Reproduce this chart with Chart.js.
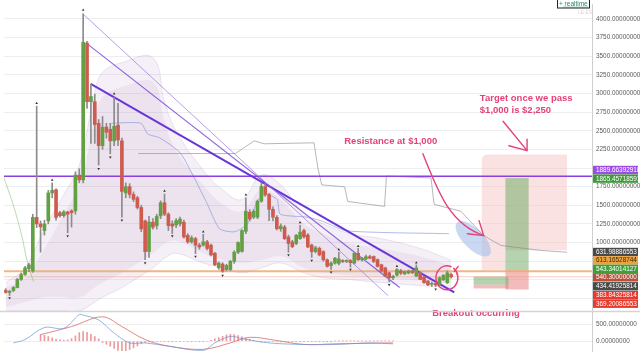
<!DOCTYPE html>
<html>
<head>
<meta charset="utf-8">
<script src="https://cdn.jsdelivr.net/npm/chart.js@4.4.1/dist/chart.umd.min.js"></script>
<style>
html,body{margin:0;padding:0;background:#fff;overflow:hidden}
canvas{display:block}
</style>
</head>
<body>
<canvas id="c" width="640" height="355"></canvas>
<script>
// ---------------- data (3-day candles) ----------------
const opens  = [357,330,357,396,505,571,650,620,1337,1250,1160,1290,1665,1708,1400,1360,1410,1425,1424,1905,
                1840,3676,2890,2889,2600,2300,2550,2520,2364,2575,2364,1665,1750,1645,1600,1470,1290,880,1272,1227,
                1358,1534,1380,1250,1236,1250,1272,1096,1009,1052,965,965,1009,965,855,660,711,637,637,747,
                870,880,1150,1406,1340,1340,1555,1752,1643,1446,1337,1184,1206,1075,1009,987,1052,1161,1100,965,
                878,921,878,768,690,724,720,750,745,760,724,855,768,780,810,812,770,702,659,593,
                527,563,620,580,590,620,550,593,537,484,440,450,440,500,462,571];
const highs  = [380,360,410,520,590,680,720,1380,2830,1290,1300,1700,1800,1720,1420,1430,1420,1440,1950,1990,
                4070,3700,3125,2990,2650,2692,2600,2600,2950,2867,2400,1800,1790,1680,1620,1500,1300,1350,1320,1380,
                1560,1650,1400,1290,1320,1340,1300,1120,1090,1070,990,1110,1030,980,870,740,730,710,760,890,
                1010,1170,1600,1440,1440,1570,1800,1790,1660,1480,1360,1250,1230,1100,1030,1110,1230,1180,1120,980,
                950,940,890,780,740,800,870,770,770,770,870,920,800,830,830,820,780,710,670,600,
                560,650,640,620,630,630,700,610,545,490,470,460,540,570,620,590];
const lows   = [320,290,340,390,490,560,610,600,1200,870,1100,1250,1600,1300,1340,1340,1130,1206,1380,1800,
                1800,2800,2330,2330,2040,2250,2400,2190,2300,2300,1340,1600,1600,1550,1450,1144,770,800,1180,1180,
                1320,1360,1161,1120,1200,1220,1060,990,990,850,910,950,900,820,690,640,600,620,620,720,
                850,870,1120,1290,1320,1320,1540,1620,1293,1290,1170,1150,1040,870,930,970,1040,1060,930,800,
                860,820,750,670,640,710,700,730,730,670,710,760,750,770,780,730,670,600,540,470,
                500,550,570,570,580,580,540,500,450,420,410,410,420,490,450,520];
const closes = [331,345,396,505,570,659,700,1337,1250,1210,1250,1665,1700,1337,1360,1410,1380,1400,1905,1840,
                3686,2889,2960,2583,2300,2548,2480,2364,2561,2377,1686,1750,1645,1580,1470,1184,878,1275,1206,1350,
                1534,1380,1227,1220,1293,1315,1075,1009,1062,965,940,1009,921,834,702,724,616,694,747,870,
                1000,1160,1420,1315,1420,1555,1752,1643,1446,1340,1184,1220,1052,987,944,1096,1140,1075,940,878,
                930,833,768,681,724,790,780,745,760,730,855,768,790,810,790,747,680,616,550,527,
                545,637,590,610,620,595,659,505,462,432,450,430,527,560,593,540];

const highMarkIdx = [8,12,20,28,41,51,62,76,86,91,101,106];
const highMarkVal = [2870,1840,4120,2998,1690,1145,1640,1270,905,950,680,730];
const lowMarkIdx  = [1,16,24,27,30,36,43,49,56,73,79,84,89,99,111];
const lowMarkVal  = [256,1089,1990,2145,1300,724,1089,812,558,833,760,602,637,432,374];

// shaded volatility bands (outer and inner)
const bandIdx   = [0,5,10,15,19,23,25,30,38,41,44,51,56,61,66,71,77,82,89,97,107,115];
const bandUpper = [462,659,1184,1643,2036,3020,3283,3414,3480,2889,2496,1971,1708,1577,1905,1774,1380,1249,1118,1052,921,764];
const bandLower = [82,82,82,82,82,200,265,396,659,790,856,724,659,593,659,724,593,527,501,462,423,396];
const innerUpper = [396,527,921,1380,1774,2627,2955,3086,3152,2627,2233,1774,1512,1420,1708,1577,1249,1118,987,921,816,685];
const innerLower = [134,200,265,265,265,396,462,593,856,987,1026,856,764,724,764,816,659,593,554,527,488,449];

// cloud lines [index, price]
const spanIdx = [34.2,59.3,61.9,64.2,66.7,79.6,80.6,81.6,87.5,88.3,97.8,98.3,109.8,110.6,117.5,123.4,127.8,138.0,144.9];
const spanVal = [2194,2194,2286,2364,2325,2338,1997,1774,1748,1551,1485,1892,1866,1512,1420,1092,961,895,869];
const baseIdx = [27.3,34.9,36.7,39.8,45,48.3,52.1,55.2,59.1,62.4,65.2,67.5,70.1,70.9,77.8,81.6,88.0,114.4];
const baseVal = [2601,2601,2456,2404,2207,1905,1512,1184,1144,1249,1577,1643,1577,1380,1341,1289,1157,1118];
const lagIdx = [-0.5,2.1,4.2,5.5,7.2];
const lagVal = [1880,1480,1080,760,470];

// drawn trend lines [index, price]
const trendStart = [[19.9,4070],[20.8,3676],[21.95,3129]];
const trendEnd   = [[98.7,288],[101.7,396],[115.8,331]];

// horizontal levels
const resistanceLevel = 1889.66392918;
const orangeLevel = 613.16528744;
const lastLevel = 540.30;

// right axis
const priceTicks = [250,500,750,1000,1250,1500,1750,2000,2250,2500,2750,3000,3250,3500,3750,4000];
const hiddenTickLabels = [250,500,750,2000];
const badgeValues = [1889.66392918,1865.45718591,631.98886553,613.16528744,543.34014127,540.30000000,434.41925814,383.84325814,369.20086553];

// position tools: [startIdx, endIdx, entry, target, stop]
const positions = [[129,135,631.99,1865.46,369.20],[120.8,129.8,434.42,543.34,383.84]];

// MACD panel
const macdIdx = [2,5,10,15,19,20,24,28,32,36,42,51,54,58,61,68,77,85,94,100];
const macdVal = [-50,50,412,391,803,785,638,244,-50,-50,-147,-274,-50,147,79,-50,-97,-97,-50,-79];
const signalIdx = [9,17,25,30,36,42,51,58,63,70,77,85,100];
const signalVal = [197,441,735,441,50,-147,-244,-50,118,21,-97,-79,-50];
const histIdx = [9,10,11,12,13,14,15,16,17,18,19,20,21,22,23,24,25,26,27,28,29,30,31,32,33,34,35,36,37,38,39,40,41,42,43,44,45,46,47,48,49,50,51,52,53,54,55,56,57,58,59,60,61,62,63,64,65,66,67,68,69,70,71,72,73,74,75,76,77,78,79,80,81,82,83,84,85,86,87,88,89,90,91,92,93,94,95,96,97,98,99,100];
const histVal = [200,180,140,100,60,40,30,40,80,160,260,290,270,210,140,70,-40,-90,-150,-220,-280,-290,-290,-250,-200,-140,-80,-40,-20,-15,-15,-15,-15,-10,-10,-10,-10,-15,-15,-10,-15,-10,-10,0,30,70,110,150,190,210,200,170,130,90,60,30,-15,-20,-20,-15,-15,-20,-20,-15,-15,-10,-10,-10,-10,-10,-10,-10,-10,-10,-5,-5,10,10,10,10,10,10,10,10,10,10,10,10,10,10,10,10];

// ---------------- chart ----------------
const GREEN = '#62a043', RED = '#cf5b4f';
const idx = opens.map((_, i) => i);
const pts = (xs, ys) => xs.map((x, i) => ({x, y: ys[i]}));
const flat = (v) => [{x:-1, y:v}, {x:152, y:v}];
const seg = (a, b) => [{x:a[0], y:a[1]}, {x:b[0], y:b[1]}];

const datasets = [
  {type:'line', data: pts(bandIdx, bandUpper), borderColor:'rgba(170,130,190,0.2)', borderWidth:1, pointRadius:0, tension:0.4, fill:false, yAxisID:'y', order:12},
  {type:'line', data: pts(bandIdx, bandLower), borderColor:'rgba(170,130,190,0.2)', borderWidth:1, pointRadius:0, tension:0.4, fill:'-1', backgroundColor:'rgba(175,135,195,0.13)', yAxisID:'y', order:12},
  {type:'line', data: pts(bandIdx, innerUpper), borderColor:'rgba(0,0,0,0)', borderWidth:0, pointRadius:0, tension:0.4, fill:false, yAxisID:'y', order:11},
  {type:'line', data: pts(bandIdx, innerLower), borderColor:'rgba(0,0,0,0)', borderWidth:0, pointRadius:0, tension:0.4, fill:'-1', backgroundColor:'rgba(160,110,170,0.09)', yAxisID:'y', order:11},
  {type:'line', data: pts(spanIdx, spanVal), borderColor:'rgba(135,135,140,0.75)', borderWidth:0.8, pointRadius:0, tension:0, yAxisID:'y', order:9},
  {type:'line', data: pts(baseIdx, baseVal), borderColor:'rgba(115,135,215,0.7)', borderWidth:0.8, pointRadius:0, tension:0.2, yAxisID:'y', order:9},
  {type:'line', data: pts(lagIdx, lagVal), borderColor:'rgba(130,190,110,0.7)', borderWidth:0.8, pointRadius:0, tension:0.3, yAxisID:'y', order:9},
  {type:'line', data: flat(resistanceLevel), borderColor:'#8a3fe0', borderWidth:1.6, pointRadius:0, yAxisID:'y', order:5},
  {type:'line', data: flat(orangeLevel), borderColor:'rgba(236,170,110,0.85)', borderWidth:2, pointRadius:0, yAxisID:'y', order:5},
  {type:'line', data: flat(lastLevel), borderColor:'rgba(236,150,120,0.6)', borderWidth:0.8, pointRadius:0, yAxisID:'y', order:5},
  {type:'line', data: seg(trendStart[0], trendEnd[0]), borderColor:'rgba(150,110,220,0.75)', borderWidth:0.9, pointRadius:0, yAxisID:'y', order:4},
  {type:'line', data: seg(trendStart[1], trendEnd[1]), borderColor:'rgba(120,70,215,0.85)', borderWidth:1.1, pointRadius:0, yAxisID:'y', order:4},
  {type:'line', data: seg(trendStart[2], trendEnd[2]), borderColor:'#6a35d8', borderWidth:2, pointRadius:0, yAxisID:'y', order:4},
  {type:'bar', data: idx.map(i => ({x:i, y:[lows[i], highs[i]]})), backgroundColor:'#8c8c8c', barThickness:1, grouped:false, yAxisID:'y', order:3},
  {type:'bar', data: idx.map(i => ({x:i, y:[opens[i], closes[i]]})), backgroundColor: idx.map(i => closes[i] >= opens[i] ? GREEN : RED), barThickness:3, grouped:false, yAxisID:'y', order:2, minBarLength:1},
  {type:'scatter', data: pts(highMarkIdx, highMarkVal), pointStyle:'triangle', rotation:0, pointRadius:1.5, backgroundColor:'#333', borderWidth:0, yAxisID:'y', order:1},
  {type:'scatter', data: pts(lowMarkIdx, lowMarkVal), pointStyle:'triangle', rotation:180, pointRadius:1.5, backgroundColor:'#333', borderWidth:0, yAxisID:'y', order:1},
  {type:'bar', data: pts(histIdx, histVal), backgroundColor:'rgba(230,120,120,0.75)', barThickness:1, grouped:false, yAxisID:'m', order:3},
  {type:'line', data: pts(macdIdx, macdVal), borderColor:'rgba(110,150,215,0.8)', borderWidth:0.9, pointRadius:0, tension:0.35, yAxisID:'m', order:2},
  {type:'line', data: pts(signalIdx, signalVal), borderColor:'rgba(215,100,95,0.85)', borderWidth:0.9, pointRadius:0, tension:0.35, yAxisID:'m', order:2}
];

const fmt = v => Number(v).toFixed(8);

const overlay = {
  id:'overlay',
  beforeDatasetsDraw(chart){
    const {ctx, scales:{x, y}} = chart;
    const X = v => x.getPixelForValue(v), Y = v => y.getPixelForValue(v);
    ctx.save();
    const bx1 = X(122.9), bx2 = X(144.9), by1 = Y(2180), by2 = Y(895);
    ctx.fillStyle = 'rgba(244,190,190,0.45)';
    ctx.beginPath();
    ctx.moveTo(bx1+6, by1); ctx.lineTo(bx2, by1); ctx.lineTo(bx2, by2); ctx.lineTo(bx1, by2); ctx.lineTo(bx1, by1+6);
    ctx.quadraticCurveTo(bx1, by1, bx1+6, by1); ctx.fill();
    ctx.fillRect(bx1, by2, X(129)-bx1, Y(633)-by2);
    positions.forEach(p => {
      const a = X(p[0]), b = X(p[1]);
      ctx.fillStyle = 'rgba(120,175,110,0.55)';
      ctx.fillRect(a, Y(p[3]), b-a, Y(p[2])-Y(p[3]));
      ctx.fillStyle = 'rgba(232,120,120,0.5)';
      ctx.fillRect(a, Y(p[2]), b-a, Y(p[4])-Y(p[2]));
    });
    ctx.fillStyle = 'rgba(165,192,235,0.6)';
    ctx.beginPath();
    ctx.ellipse(X(120.7), Y(1052), 23, 10, Math.PI/4, 0, Math.PI*2);
    ctx.fill();
    ctx.restore();
  },
  afterDatasetsDraw(chart){
    const {ctx, scales:{x, y}} = chart;
    const X = v => x.getPixelForValue(v), Y = v => y.getPixelForValue(v);
    ctx.save();
    const pink = '#e5417a';
    ctx.strokeStyle = pink; ctx.lineWidth = 1.4; ctx.lineCap = 'round'; ctx.lineJoin='round';
    ctx.beginPath();
    ctx.moveTo(X(107.7), Y(2190));
    ctx.bezierCurveTo(X(111.5), Y(1700), X(114.5), Y(1250), X(123.4), Y(1092));
    ctx.stroke();
    ctx.beginPath();
    ctx.moveTo(X(119.2), Y(1118)); ctx.lineTo(X(123.4), Y(1092)); ctx.lineTo(X(122.2), Y(1293));
    ctx.stroke();
    ctx.beginPath();
    ctx.moveTo(X(128.4), Y(2627)); ctx.lineTo(X(134.6), Y(2233));
    ctx.moveTo(X(129.9), Y(2299)); ctx.lineTo(X(134.6), Y(2233)); ctx.lineTo(X(134.6), Y(2387));
    ctx.stroke();
    ctx.beginPath();
    ctx.ellipse(X(113.9), Y(527), 11, 12, 0, -0.9, 5.1);
    ctx.stroke();
    ctx.beginPath();
    ctx.moveTo(X(115.8), Y(610)); ctx.lineTo(X(116.8), Y(680));
    ctx.stroke();
    ctx.fillStyle = pink;
    ctx.font = 'bold 9.5px "Liberation Sans", Arial, sans-serif';
    ctx.textBaseline = 'middle'; ctx.textAlign = 'left';
    ctx.fillText('Resistance at $1,000', X(87.4), Y(2364));
    ctx.fillText('Target once we pass', X(122.4), Y(2933));
    ctx.fillText('$1,000 is $2,250', X(122.4), Y(2780));
    ctx.fillText('Breakout occurring', X(110.1), Y(55));
    ctx.restore();
  },
  afterDraw(chart){
    const {ctx, scales:{y}, chartArea} = chart;
    ctx.save();
    ctx.strokeStyle = '#d4d4d4'; ctx.lineWidth = 1.5;
    ctx.beginPath(); ctx.moveTo(0, y.bottom+0.5); ctx.lineTo(640, y.bottom+0.5); ctx.stroke();
    const colors = ['#9a4ee6','#3f9a3a','#4a4a4a','#f0a23a','#3f9f3a','#b8503a','#4a4a4a','#e53b2f','#e53b2f'];
    const centers = [170,178.6,252,260.4,268.8,277.3,286.3,295.2,303.7];
    ctx.font = '6.4px "Liberation Sans", Arial, sans-serif';
    ctx.textBaseline = 'middle'; ctx.textAlign = 'left';
    badgeValues.forEach((v, i) => {
      ctx.fillStyle = colors[i];
      ctx.fillRect(chartArea.right+1, centers[i]-4.2, 45, 8.4);
      ctx.fillStyle = i === 3 ? '#3a2a10' : '#fff';
      ctx.fillText(fmt(v), chartArea.right+4, centers[i]+0.3);
    });
    ctx.fillStyle = '#fff'; ctx.fillRect(557, -1, 32, 8.5);
    ctx.strokeStyle = '#222'; ctx.lineWidth = 1; ctx.strokeRect(557.5, -0.5, 32, 8.5);
    ctx.fillStyle = '#2a8a72'; ctx.font = '6.5px "Liberation Sans", Arial, sans-serif';
    ctx.fillText('+ realtime', 559, 4);
    ctx.fillRect(563, 6.8, 25, 0.6);
    ctx.fillStyle = '#d8d8d8'; ctx.font = '5px "Liberation Sans", Arial, sans-serif';
    ctx.fillText('LE ES', 578, 12.5);
    ctx.restore();
  }
};

const noPad = a => { a.width = 48; a.paddingTop = 0; a.paddingBottom = 0; };

new Chart(document.getElementById('c'), {
  type:'bar',
  data:{datasets},
  plugins:[overlay],
  options:{
    responsive:false, animation:false, devicePixelRatio:1,
    layout:{padding:0},
    plugins:{legend:{display:false}, tooltip:{enabled:false}},
    scales:{
      x:{type:'linear', min:-0.436, max:151.36, offset:false, display:false},
      y:{type:'linear', position:'right', stack:'p', stackWeight:314, min:82, max:4201,
         afterBuildTicks:a => { a.ticks = priceTicks.map(v => ({value:v})); },
         afterFit:noPad,
         ticks:{padding:4, autoSkip:false, color:'#5a5a5a', font:{family:'Liberation Sans', size:6.4},
                callback:v => hiddenTickLabels.includes(v) ? '' : fmt(v)},
         grid:{color:'#eeeeee', drawTicks:false},
         border:{display:true, color:'#cfcfcf'}},
      m:{type:'linear', position:'right', stack:'p', stackWeight:41, min:-294, max:912, offset:false,
         afterBuildTicks:a => { a.ticks = [{value:0},{value:500}]; },
         afterFit:noPad,
         ticks:{padding:4, autoSkip:false, color:'#5a5a5a', font:{family:'Liberation Sans', size:6.4}, callback:v => fmt(v)},
         grid:{color:'#eeeeee', drawTicks:false},
         border:{display:true, color:'#cfcfcf'}}
    }
  }
});
</script>
</body>
</html>
